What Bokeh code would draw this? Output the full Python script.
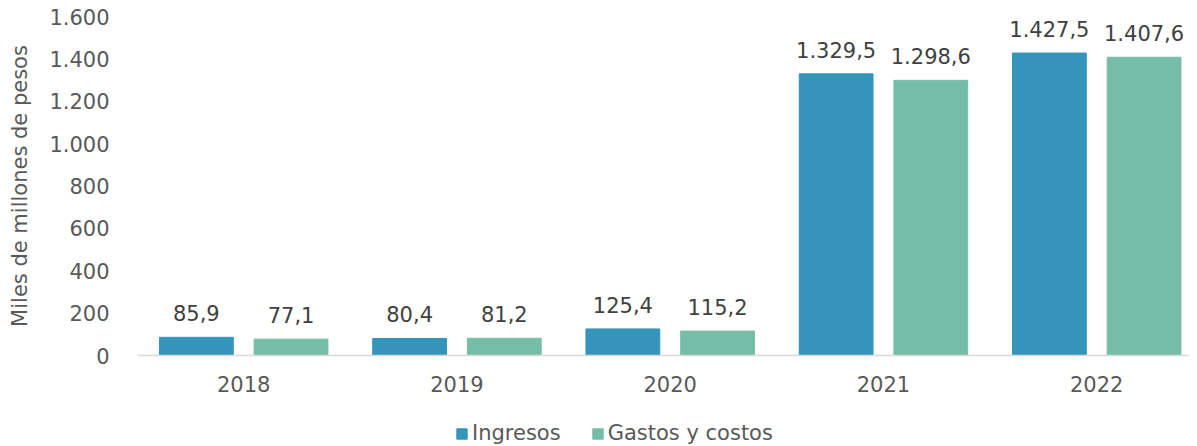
from bokeh.plotting import figure
from bokeh.layouts import column
from bokeh.models import ColumnDataSource, Range1d, FixedTicker, LabelSet, Legend, LegendItem
from bokeh.core.properties import value
from bokeh.transform import dodge
from bokeh.embed import file_html
from bokeh.resources import INLINE

years = ["2018", "2019", "2020", "2021", "2022"]
ingresos = [85.9, 80.4, 125.4, 1329.5, 1427.5]
gastos = [77.1, 81.2, 115.2, 1298.6, 1407.6]
y_ticks = [0, 200, 400, 600, 800, 1000, 1200, 1400, 1600]
series_names = ["Ingresos", "Gastos y costos"]
series_colors = ["#3494BA", "#75BDA7"]

FONT = "DejaVu Sans"
FS = "21px"


def es_fmt(v, dec=1):
    s = f"{v:,.{dec}f}"
    return s.replace(",", "X").replace(".", ",").replace("X", ".")


xs = list(range(len(years)))
src = ColumnDataSource(dict(
    x=xs,
    ing=ingresos,
    gas=gastos,
    ing_lbl=[es_fmt(v) for v in ingresos],
    gas_lbl=[es_fmt(v) for v in gastos],
))
cols = ["ing", "gas"]

p = figure(
    output_backend="svg", toolbar_location=None,
    width=1184, height=410,
    min_border_left=120, min_border_right=0, min_border_top=16, min_border_bottom=55,
    x_range=Range1d(-0.498, 4.435), y_range=Range1d(0, 1600),
)
p.outline_line_color = None
p.xgrid.visible = False
p.ygrid.visible = False

off = 0.222
w = 0.346
offsets = [-off, off]
for col, o, color in zip(cols, offsets, series_colors):
    p.vbar(x=dodge("x", o, range=p.x_range), top=col, width=w, source=src,
           fill_color=color, line_color=color)
    ls = LabelSet(x=dodge("x", o, range=p.x_range), y=col, text=col + "_lbl", source=src,
                  text_align="center", text_baseline="bottom", y_offset=16,
                  text_font=value(FONT), text_font_size=value(FS), text_color="#404040")
    p.add_layout(ls)

# x axis
p.xaxis.ticker = FixedTicker(ticks=xs)
p.xaxis.major_label_overrides = {i: y for i, y in zip(xs, years)}
p.xaxis.major_tick_line_color = None
p.xaxis.minor_tick_line_color = None
p.xaxis.axis_line_color = "#D9D9D9"
p.xaxis.axis_line_width = 1.5
p.xaxis.major_label_text_font = FONT
p.xaxis.major_label_text_font_size = FS
p.xaxis.major_label_text_color = "#595959"
p.xaxis.major_label_standoff = 14

# y axis
p.yaxis.ticker = FixedTicker(ticks=y_ticks)
p.yaxis.major_label_overrides = {t: es_fmt(t, 0) for t in y_ticks}
p.yaxis.axis_line_color = None
p.yaxis.major_tick_line_color = None
p.yaxis.minor_tick_line_color = None
p.yaxis.major_label_text_font = FONT
p.yaxis.major_label_text_font_size = FS
p.yaxis.major_label_text_color = "#595959"
p.yaxis.major_label_standoff = 22
p.yaxis.axis_label = "Miles de millones de pesos"
p.yaxis.axis_label_text_font = FONT
p.yaxis.axis_label_text_font_size = FS
p.yaxis.axis_label_text_font_style = "normal"
p.yaxis.axis_label_text_color = "#595959"
p.yaxis.axis_label_standoff = 14

# legend strip below the chart (frame aligned with the main chart's frame)
lg = figure(
    output_backend="svg", toolbar_location=None,
    width=1184, height=36, min_border=0,
    x_axis_type=None, y_axis_type=None,
    x_range=Range1d(0, 1), y_range=Range1d(0, 1),
)
lg.outline_line_color = None
lg.xgrid.visible = False
lg.ygrid.visible = False
items = []
for name, col, color in zip(series_names, cols, series_colors):
    r = lg.vbar(x="x", top=col, width=0.1, source=src, fill_color=color,
                line_color=color, visible=False)
    items.append(LegendItem(label=name, renderers=[r]))

legend = Legend(
    items=items, location=(318, 1), orientation="horizontal",
    padding=0, margin=0, spacing=30, label_standoff=4,
    glyph_width=13, glyph_height=13,
    label_text_font=FONT, label_text_font_size=FS, label_text_color="#595959",
    border_line_color=None, background_fill_alpha=0,
    inactive_fill_alpha=0,
)
lg.add_layout(legend, "center")

layout = column(p, lg, spacing=0, margin=(0, 0, 0, 5))
open("out.html", "w").write(file_html(layout, INLINE))
